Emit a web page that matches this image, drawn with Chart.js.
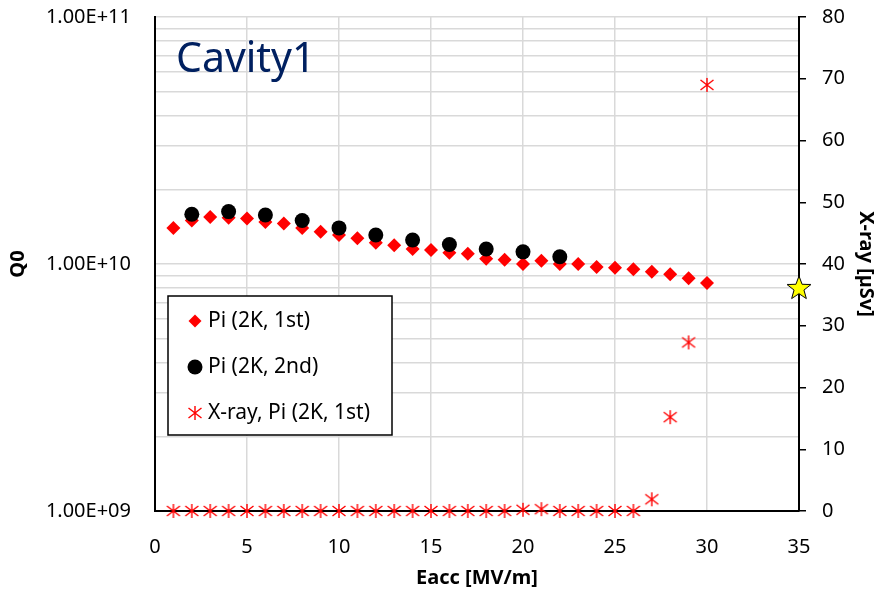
<!DOCTYPE html>
<html>
<head>
<meta charset="utf-8">
<script src="https://cdn.jsdelivr.net/npm/chart.js@4.4.1/dist/chart.umd.min.js"></script>
<style>
html, body { margin: 0; padding: 0; background: #fff; }
</style>
</head>
<body>
<canvas id="chart" width="883" height="593"></canvas>
<script>
// Pi (2K, 1st) : Eacc [MV/m] / Q0
const eaccFirst = [1, 2, 3, 4, 5, 6, 7, 8, 9, 10, 11, 12, 13, 14, 15,
  16, 17, 18, 19, 20, 21, 22, 23, 24, 25, 26, 27, 28, 29, 30];
const q0First = [1.40e10, 1.50e10, 1.55e10, 1.54e10, 1.53e10, 1.48e10, 1.46e10, 1.40e10, 1.35e10, 1.31e10,
  1.27e10, 1.22e10, 1.19e10, 1.15e10, 1.14e10, 1.11e10, 1.10e10, 1.05e10, 1.04e10, 1.00e10,
  1.03e10, 1.00e10, 1.00e10, 0.972e10, 0.966e10, 0.952e10, 0.931e10, 0.908e10, 0.875e10, 0.838e10];
// Pi (2K, 2nd)
const eaccSecond = [2, 4, 6, 8, 10, 12, 14, 16, 18, 20, 22];
const q0Second = [1.59e10, 1.63e10, 1.58e10, 1.50e10, 1.40e10, 1.31e10, 1.25e10, 1.20e10, 1.15e10, 1.12e10, 1.07e10];
// X-ray [uSv] during 1st test
const xrayFirst = [0, 0, 0, 0, 0, 0, 0, 0, 0, 0, 0, 0, 0, 0, 0,
  0, 0, 0, 0, 0.2, 0.3, 0, 0, 0, 0, 0, 1.9, 15.2, 27.3, 69.0];
// spec point
const specEacc = [35];
const specQ0 = [8e9];
// log axis ticks (labels only on decades)
const q0Ticks = [1e9, 2e9, 3e9, 4e9, 5e9, 6e9, 7e9, 8e9, 9e9,
  1e10, 2e10, 3e10, 4e10, 5e10, 6e10, 7e10, 8e10, 9e10, 1e11];

const FONT = "'Noto Sans', sans-serif";

function pts(xs, ys) {
  return xs.map((x, i) => ({ x: x, y: ys[i] }));
}

// Excel style "*" marker
function makeAsterisk() {
  const c = document.createElement('canvas');
  c.width = 16; c.height = 16;
  const g = c.getContext('2d');
  g.strokeStyle = '#ff0000';
  g.lineWidth = 1.4;
  g.beginPath();
  g.moveTo(8, 1); g.lineTo(8, 15);
  g.moveTo(1.5, 3); g.lineTo(14.5, 13);
  g.moveTo(1.5, 13); g.lineTo(14.5, 3);
  g.stroke();
  return c;
}

function makeStar() {
  const c = document.createElement('canvas');
  c.width = 28; c.height = 28;
  const g = c.getContext('2d');
  const cx = 14, cy = 14.5, ro = 12.5, ri = 5.2;
  g.beginPath();
  for (let i = 0; i < 10; i++) {
    const r = i % 2 ? ri : ro;
    const a = -Math.PI / 2 + i * Math.PI / 5;
    const px = cx + r * Math.cos(a), py = cy + r * Math.sin(a);
    if (i === 0) g.moveTo(px, py); else g.lineTo(px, py);
  }
  g.closePath();
  g.fillStyle = '#ffff00';
  g.fill();
  g.strokeStyle = '#000';
  g.lineWidth = 1;
  g.stroke();
  return c;
}

const asterisk = makeAsterisk();
const star = makeStar();

function sciLabel(v) {
  const e = Math.round(Math.log10(v));
  if (Math.abs(v - Math.pow(10, e)) > 1) return '';
  const m = v / Math.pow(10, e);
  return m.toFixed(2) + 'E+' + (e < 10 ? '0' + e : e);
}

// title text inside plot
const cavityTitle = {
  id: 'cavityTitle',
  afterDatasetsDraw(chart) {
    const ctx = chart.ctx, a = chart.chartArea;
    ctx.save();
    ctx.font = "41px " + FONT;
    ctx.fillStyle = '#002060';
    ctx.textBaseline = 'alphabetic';
    ctx.fillText('Cavity1', a.left + 21, a.top + 55);
    ctx.restore();
  }
};

// boxed legend inside plot
const boxLegend = {
  id: 'boxLegend',
  afterDraw(chart) {
    const ctx = chart.ctx, a = chart.chartArea;
    const x0 = a.left + 13, y0 = a.top + 279, w = 224, h = 139;
    ctx.save();
    ctx.fillStyle = '#fff';
    ctx.fillRect(x0, y0, w, h);
    ctx.strokeStyle = '#000';
    ctx.lineWidth = 1.5;
    ctx.strokeRect(x0, y0, w, h);
    const items = chart.data.datasets.filter(d => d.showInLegend !== false);
    ctx.font = "21px " + FONT;
    ctx.textBaseline = 'middle';
    items.forEach((d, i) => {
      const cy = y0 + 25 + i * 46;
      const mx = x0 + 27;
      ctx.fillStyle = d.backgroundColor;
      ctx.beginPath();
      if (d.pointStyle === 'rectRot') {
        const r = 6.5;
        ctx.moveTo(mx, cy - r); ctx.lineTo(mx + r, cy); ctx.lineTo(mx, cy + r); ctx.lineTo(mx - r, cy);
        ctx.closePath(); ctx.fill();
      } else if (d.pointStyle === 'circle') {
        ctx.arc(mx, cy, 7.5, 0, Math.PI * 2); ctx.fill();
      } else {
        ctx.drawImage(d.pointStyle, mx - d.pointStyle.width / 2, cy - d.pointStyle.height / 2);
      }
      ctx.fillStyle = '#000';
      ctx.fillText(d.label, x0 + 40, cy);
    });
    ctx.restore();
  }
};

const tickFont = { family: FONT, size: 20 };
const titleFont = { family: FONT, size: 20, weight: 'bold' };

function fixVertical(w) {
  return function (s) {
    s.width = w;
    s.paddingTop = 0;
    s.paddingBottom = 0;
  };
}

new Chart(document.getElementById('chart'), {
  type: 'scatter',
  data: {
    datasets: [
      {
        label: 'Pi (2K, 1st)',
        data: pts(eaccFirst, q0First),
        yAxisID: 'y',
        pointStyle: 'rectRot',
        pointRadius: 7,
        backgroundColor: '#ff0000',
        borderColor: '#ff0000',
        borderWidth: 0,
        order: 2,
        clip: false
      },
      {
        label: 'Pi (2K, 2nd)',
        data: pts(eaccSecond, q0Second),
        yAxisID: 'y',
        pointStyle: 'circle',
        pointRadius: 7.5,
        backgroundColor: '#000000',
        borderColor: '#000000',
        borderWidth: 0,
        order: 1,
        clip: false
      },
      {
        label: 'X-ray, Pi (2K, 1st)',
        data: pts(eaccFirst, xrayFirst),
        yAxisID: 'y2',
        pointStyle: asterisk,
        backgroundColor: '#ff0000',
        borderColor: '#ff0000',
        order: 3,
        clip: false
      },
      {
        label: 'spec',
        showInLegend: false,
        data: pts(specEacc, specQ0),
        yAxisID: 'y',
        pointStyle: star,
        backgroundColor: '#ffff00',
        borderColor: '#000',
        order: 0,
        clip: false
      }
    ]
  },
  options: {
    responsive: false,
    animation: false,
    events: [],
    layout: { padding: { top: 17, left: 0, right: 0, bottom: 0 } },
    plugins: {
      legend: { display: false },
      tooltip: { enabled: false }
    },
    scales: {
      x: {
        type: 'linear',
        min: 0,
        max: 35,
        ticks: { stepSize: 5, padding: 24, font: tickFont, color: '#000' },
        grid: { color: '#d9d9d9', lineWidth: 1.5, drawTicks: false },
        border: { color: '#000', width: 2 },
        title: { display: true, text: 'Eacc [MV/m]', font: titleFont, color: '#000', padding: { top: 0, bottom: 3 } },
        afterFit(s) { s.height = 82; s.paddingLeft = 0; s.paddingRight = 0; }
      },
      y: {
        type: 'logarithmic',
        position: 'left',
        min: 1e9,
        max: 1e11,
        afterBuildTicks(s) { s.ticks = q0Ticks.map(v => ({ value: v })); },
        ticks: { autoSkip: false, padding: 24, font: tickFont, color: '#000', callback: v => sciLabel(v) },
        grid: { color: '#d9d9d9', lineWidth: 1.5, drawTicks: false },
        border: { color: '#000', width: 2 },
        title: { display: true, text: 'Q0', font: titleFont, color: '#000', padding: { top: 6, bottom: 0 } },
        afterFit: fixVertical(155)
      },
      y2: {
        type: 'linear',
        position: 'right',
        min: 0,
        max: 80,
        ticks: { stepSize: 10, padding: 16, font: tickFont, color: '#000' },
        grid: { drawOnChartArea: false, color: '#000', lineWidth: 1.5, tickLength: 7 },
        border: { color: '#000', width: 2 },
        title: { display: true, text: 'X-ray [µSv]', font: titleFont, color: '#000', padding: { top: 5, bottom: 0 } },
        afterFit: fixVertical(84)
      }
    }
  },
  plugins: [cavityTitle, boxLegend]
});
</script>
</body>
</html>
